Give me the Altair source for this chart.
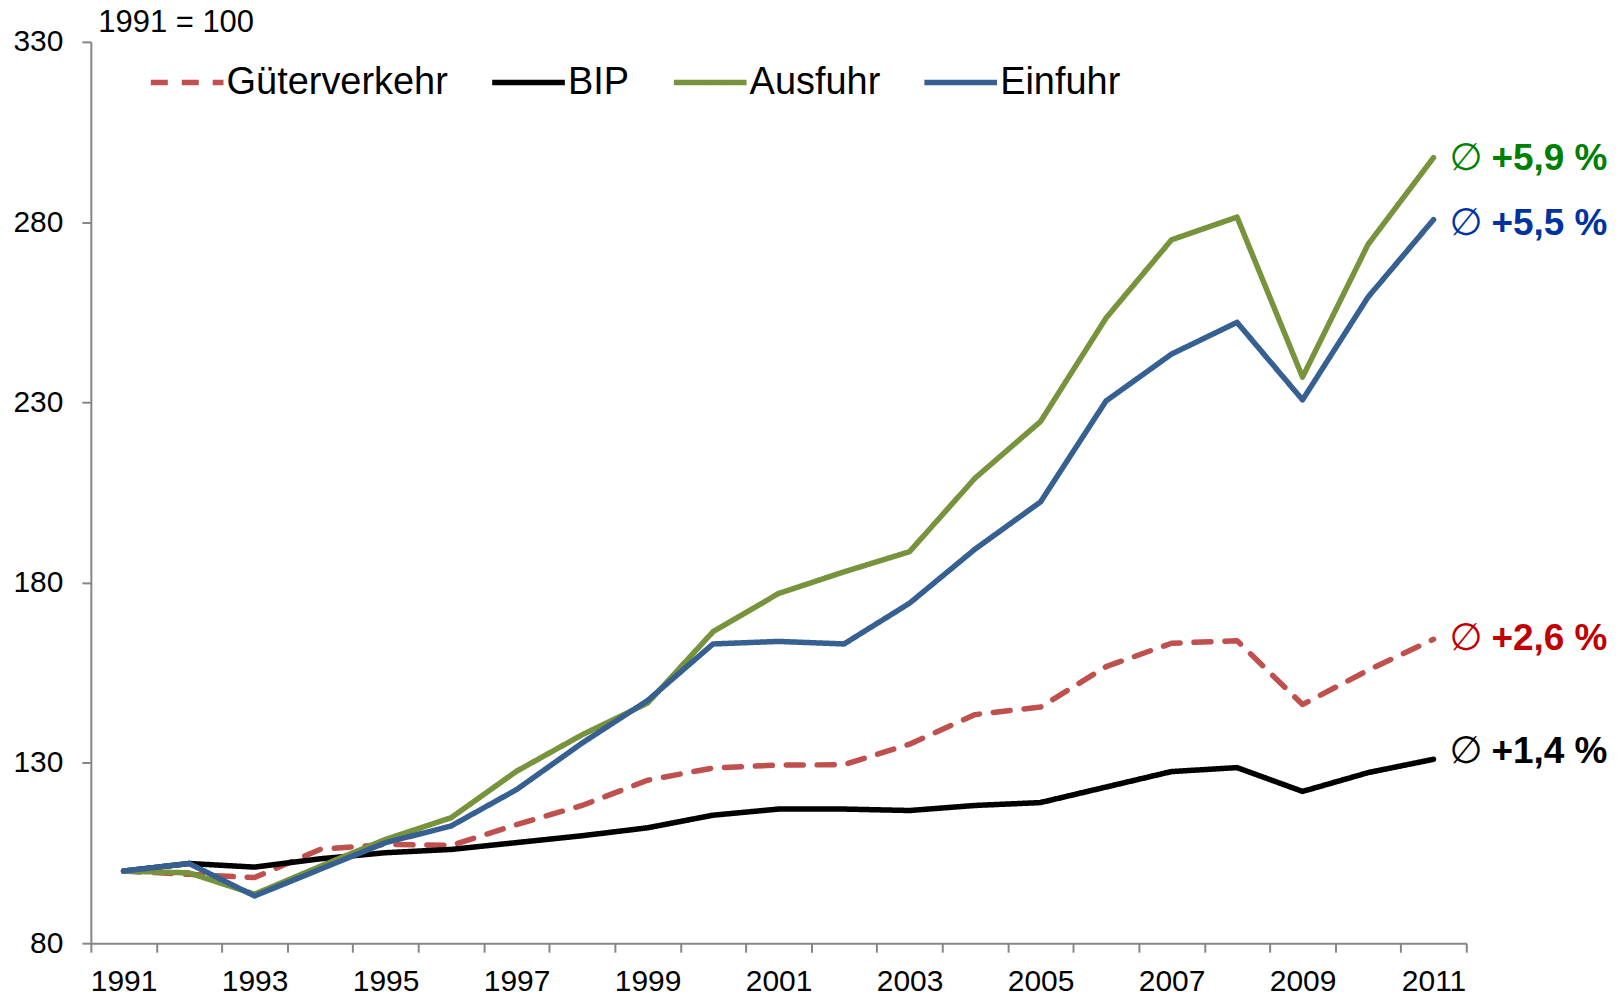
import altair as alt
import pandas as pd

years = list(range(1991, 2012))
series_names = ["Güterverkehr", "BIP", "Ausfuhr", "Einfuhr"]
gueterverkehr = [100, 99.1, 98.2, 106.0, 107.4, 107.1, 112.9, 118.2, 125.2, 128.6, 129.4,
                 129.5, 135.2, 143.4, 145.5, 156.7, 163.2, 163.9, 146.2, 155.7, 164.3]
bip = [100, 102.1, 101.1, 103.4, 105.1, 106.0, 107.9, 109.8, 112.0, 115.5, 117.2,
       117.2, 116.8, 118.2, 119.0, 123.3, 127.6, 128.7, 122.1, 127.3, 131.0]
ausfuhr = [100, 99.5, 93.6, 101.3, 108.8, 114.8, 127.7, 137.8, 146.6, 166.4, 177.0,
           183.0, 188.6, 209.0, 224.7, 253.4, 275.1, 281.4, 237.0, 273.8, 297.9]
einfuhr = [100, 102.1, 93.1, 100.5, 107.9, 112.5, 122.6, 135.5, 147.3, 163.0, 163.7,
           163.0, 174.3, 189.3, 202.4, 230.4, 243.4, 252.2, 230.7, 259.2, 280.7]
line_colors = ["#C0504D", "#000000", "#77933C", "#376092"]

ann_labels = ["+2,6 %", "+1,4 %", "+5,9 %", "+5,5 %"]
ann_values = [164.4, 132.9, 297.6, 279.6]
ann_colors = ["#C00000", "#000000", "#008000", "#0033A0"]
y_ticks = [80, 130, 180, 230, 280, 330]
index_note = "1991 = 100"

rows = []
for name, vals in zip(series_names, [gueterverkehr, bip, ausfuhr, einfuhr]):
    for yr, v in zip(years, vals):
        rows.append({"series": name, "year": yr, "value": v})
df = pd.DataFrame(rows)

ann = pd.DataFrame({"series": series_names, "label": ann_labels, "value": ann_values,
                    "tcolor": ann_colors, "year": [years[-1]] * 4, "sym": ["∅"] * 4})

FONT = "Liberation Sans, Arial, DejaVu Sans"

x_enc = alt.X("year:O", scale=alt.Scale(type="band", paddingInner=0, paddingOuter=0),
              axis=alt.Axis(title=None, labelExpr="datum.value % 2 == 1 ? datum.label : ''",
                            tickBand="extent", labelAngle=0, tickSize=9, labelPadding=14,
                            labelFontSize=30, labelFont=FONT, labelColor="#000000",
                            domainColor="#868686", domainWidth=2, tickColor="#868686",
                            tickWidth=2, grid=False))
y_enc = alt.Y("value:Q", scale=alt.Scale(domain=[80, 330], nice=False, zero=False),
              axis=alt.Axis(title=index_note, titleAngle=0, titleAlign="left",
                            titleBaseline="middle", titleX=7, titleY=-19,
                            titleFontSize=31, titleFont=FONT, titleFontWeight="normal",
                            titleColor="#000000",
                            values=y_ticks, tickSize=9, labelPadding=19,
                            labelFontSize=30, labelFont=FONT, labelColor="#000000",
                            domainColor="#868686", domainWidth=2, tickColor="#868686",
                            tickWidth=2, grid=False))

lines = alt.Chart(df).mark_line(strokeWidth=5.5, strokeCap="round", strokeJoin="round").encode(
    x=x_enc,
    y=y_enc,
    color=alt.Color("series:N", sort=series_names,
                    scale=alt.Scale(domain=series_names, range=line_colors),
                    legend=alt.Legend(title=None)),
    strokeDash=alt.StrokeDash("series:N", sort=series_names,
                              scale=alt.Scale(domain=series_names,
                                              range=[[17, 14], [1, 0], [1, 0], [1, 0]]),
                              legend=alt.Legend(title=None)),
)

sym = alt.Chart(ann).mark_text(align="left", baseline="middle", dx=16, fontSize=38,
                               font="DejaVu Sans", fontWeight="normal").encode(
    x="year:O", y="value:Q", text="sym:N",
    fill=alt.Fill("tcolor:N", scale=None),
)
num = alt.Chart(ann).mark_text(align="left", baseline="middle", dx=58, fontSize=37,
                               font=FONT, fontWeight="bold").encode(
    x="year:O", y="value:Q", text="label:N",
    fill=alt.Fill("tcolor:N", scale=None),
)

chart = alt.layer(lines, sym, num).properties(
    width=1378, height=903,
    autosize=alt.AutoSizeParams(type="none"),
    padding={"left": 83, "top": 33, "right": 150, "bottom": 60},
).configure_view(stroke=None).configure_legend(
    orient="none", legendX=57, legendY=1, direction="horizontal",
    symbolType="stroke", symbolSize=5300, symbolStrokeWidth=5.5,
    labelFontSize=38, labelFont=FONT, labelColor="#000000", labelOffset=0,
    columnPadding=33, padding=0, labelLimit=400,
)

chart.save("out.html", embed_options={"renderer": "svg", "actions": False})
